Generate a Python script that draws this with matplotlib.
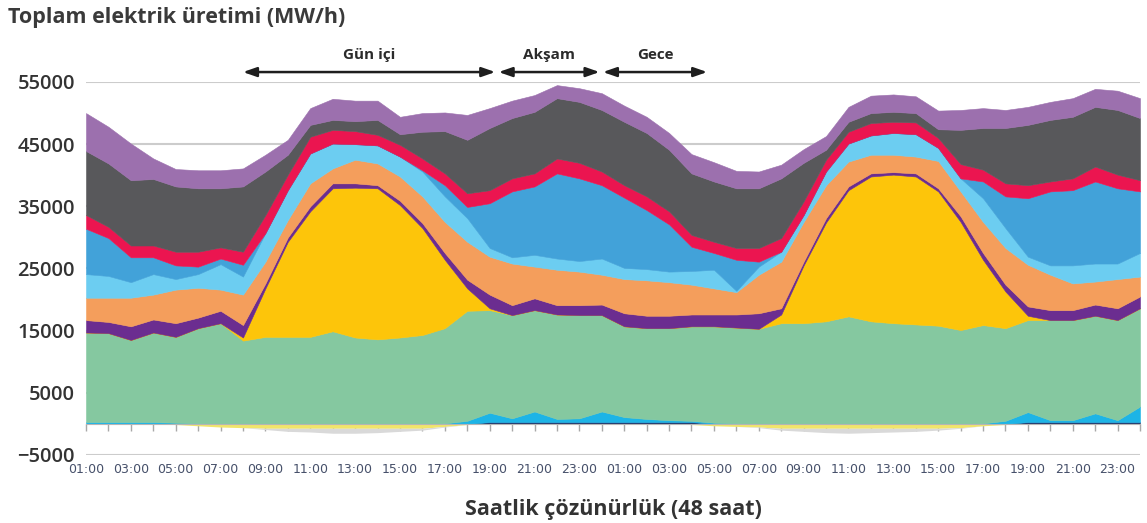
import numpy as np
import matplotlib
matplotlib.use('Agg')
import matplotlib.pyplot as plt

# 48 hourly points, 01:00 day 1 .. 24:00 day 2 (MW)
hours = np.arange(48)
day_labels = ['01:00', '03:00', '05:00', '07:00', '09:00', '11:00',
              '13:00', '15:00', '17:00', '19:00', '21:00', '23:00']
tick_labels = day_labels + day_labels

navy = [0, 0, 0, 0, 0, 0, 0, 0, 0, 0, 0, 0, 0, 0, 0, 0, 0, 0, 300, 300,
        300, 300, 300, 300, 300, 300, 300, 300, 0, 0, 0, 0, 0, 0, 0, 0, 0, 0, 0, 0,
        0, 0, 300, 300, 300, 300, 300, 300]
cyan = [300, 300, 300, 300, 200, 100, 0, 0, 0, 0, 0, 0, 0, 0, 0, 0, 100, 500, 1500, 600,
        1700, 500, 600, 1700, 800, 500, 300, 200, 200, 100, 0, 0, 0, 0, 0, 0, 0, 0, 0, 0,
        100, 500, 1600, 300, 300, 1400, 300, 2500]
green = [14400, 14300, 13200, 14400, 13800, 15300, 16200, 13400, 14000, 14000,
         14000, 14900, 13900, 13600, 13900, 14300, 15300, 17700, 16500, 16600,
         16300, 16800, 16600, 15500, 14600, 14600, 14800, 15200, 15500, 15400,
         15300, 16200, 16200, 16500, 17300, 16500, 16200, 16000, 15800, 15100,
         15800, 14900, 14800, 16100, 16100, 15700, 16100, 15800]
solar = [0, 0, 0, 0, 0, 0, 0, 500, 7800, 15300,
         20200, 23000, 24100, 24300, 21300, 17200, 11000, 3600, 300, 0,
         0, 0, 0, 0, 0, 0, 0, 0, 0, 0,
         0, 1400, 9300, 15900, 20300, 23300, 23900, 23800, 21600, 17400,
         10500, 5900, 700, 0, 0, 0, 0, 0]
violet = [2000, 1800, 2200, 2100, 2200, 1700, 2000, 2000, 800, 700,
          800, 800, 700, 500, 700, 800, 1100, 1400, 2200, 1600,
          1900, 1500, 1600, 1700, 2100, 2000, 2000, 1900, 1900, 2100,
          2500, 1000, 600, 700, 600, 500, 400, 500, 500, 900,
          1100, 1100, 1500, 1600, 1600, 1800, 1900, 1900]
orange = [3600, 3900, 4600, 4000, 5400, 4800, 3400, 4900, 3500, 2800,
          3700, 2400, 3800, 3500, 3900, 4300, 5000, 6100, 6100, 6700,
          5100, 5700, 5400, 4800, 5500, 5700, 5400, 4800, 4200, 3600,
          6200, 7500, 6400, 5300, 4000, 3000, 2800, 2700, 4400, 4000,
          5000, 5900, 6700, 5700, 4300, 3700, 4700, 3200]
light_blue = [3800, 3500, 2500, 3300, 1700, 2200, 4100, 2900, 4600, 4800,
              4800, 4000, 2500, 2900, 3200, 4000, 4100, 3800, 1400, 1000,
              1900, 1800, 1700, 2600, 1800, 1800, 1700, 2200, 3000, 200,
              1300, 1600, 1100, 2200, 2900, 3100, 3500, 3600, 2100, 2100,
              3800, 3200, 1300, 1500, 2900, 2900, 2500, 3800]
blue = [7300, 6100, 4000, 2700, 2200, 1200, 900, 1900, 0, 0,
        0, 0, 0, 0, 0, 200, 1800, 1800, 7200, 10600,
        11000, 13700, 13300, 11800, 11300, 9500, 7600, 3900, 2700, 5000,
        800, 0, 0, 0, 0, 0, 0, 0, 0, 0,
        2700, 5100, 9400, 11900, 12100, 13200, 12100, 9900]
crimson = [2200, 1800, 1900, 1900, 2200, 2400, 1800, 2100, 2900, 2500,
           2700, 2200, 2100, 1700, 1900, 1900, 1900, 2200, 2100, 2100,
           2100, 2400, 2500, 2200, 2000, 2200, 2100, 1900, 1800, 1900,
           2200, 2200, 2200, 1900, 1900, 2000, 1800, 1900, 1600, 2300,
           1900, 2100, 2100, 1600, 1900, 2400, 2200, 1800]
gray = [10300, 10200, 10500, 10700, 10500, 10200, 9500, 10500, 7000, 3200,
        1900, 1600, 1600, 2400, 1700, 4300, 6800, 8600, 10000, 9700,
        9900, 9700, 9800, 9900, 10200, 10200, 9900, 9900, 9700, 9600,
        9600, 9600, 6200, 1600, 1600, 1600, 1600, 1500, 1400, 5500,
        6700, 8900, 9700, 9900, 9900, 9600, 10400, 10000]
lavender = [6100, 5900, 5900, 3300, 2800, 2900, 2900, 2900, 2700, 2400,
            2700, 3400, 3300, 3100, 2800, 3000, 3000, 4000, 3200, 2800,
            2700, 2100, 2200, 2700, 2600, 2600, 2700, 3100, 3100, 2800,
            2700, 2200, 2200, 2200, 2400, 2800, 2800, 2700, 3000, 3200,
            3200, 2900, 2900, 2900, 3000, 2900, 3100, 3200]

# below zero
pumping = [0, 0, 0, 0, 100, 300, 500, 600, 700, 700,
           700, 700, 700, 700, 700, 700, 400, 100, 0, 0,
           0, 0, 0, 0, 0, 0, 0, 100, 300, 400,
           500, 700, 700, 700, 700, 700, 700, 700, 700, 600,
           300, 100, 0, 0, 0, 0, 0, 0]
export = [0, 0, 0, 0, 0, 0, 0, 0, 200, 500,
          600, 800, 800, 700, 500, 300, 100, 0, 0, 0,
          0, 0, 0, 0, 0, 0, 0, 0, 0, 0,
          100, 300, 500, 700, 800, 700, 600, 500, 300, 100,
          0, 0, 0, 0, 0, 0, 0, 0]

periods = [('Gün içi', 7.0, 18.25), ('Akşam', 18.4, 22.9), ('Gece', 23.05, 27.7)]

colors = ['#1f3a70', '#1db4e6', '#85c8a0', '#fdc50a', '#6b2d90', '#f49e5c',
          '#6ccdf1', '#42a2d9', '#eb1550', '#58585b', '#9c70ae']
fonts = ['Open Sans', 'DejaVu Sans']

fig = plt.figure(figsize=(11.47, 5.23), dpi=100)
ax = fig.add_axes([86 / 1147, 68 / 523, 1054 / 1147, 373 / 523])

layers = [navy, cyan, green, solar, violet, orange, light_blue, blue, crimson, gray, lavender]
polys = ax.stackplot(hours, *layers, colors=colors, linewidth=0.4)
for p, c in zip(polys, colors):
    p.set_edgecolor(c)

pump = np.array(pumping)
ax.fill_between(hours, 0, -pump, color='#f1e56a', lw=0)
ax.fill_between(hours, -pump, -(pump + np.array(export)), color='#d9d9d9', lw=0)

ax.set_xlim(0, 47)
ax.set_ylim(-5000, 55000)
ax.set_yticks(np.arange(-5000, 55001, 10000))
ax.yaxis.grid(True, color='#cccccc', lw=1.5)
ax.set_axisbelow(True)

for s in ['top', 'right', 'left']:
    ax.spines[s].set_visible(False)
ax.spines['bottom'].set_position(('data', 0))
ax.spines['bottom'].set_color('#b5b5b5')
ax.spines['bottom'].set_zorder(5)

ax.set_xticks(hours)
ax.set_xticklabels([tick_labels[i // 2] if i % 2 == 0 else '' for i in hours],
                   family=['Liberation Sans Narrow', 'DejaVu Sans'])
ax.tick_params(axis='x', direction='out', length=5, width=1, color='#a8a8a8',
               pad=23, labelsize=9, labelcolor='#46506a')
ax.tick_params(axis='y', length=0, pad=8, labelsize=14.5, labelcolor='#333333')
for t in ax.get_yticklabels():
    t.set_family(fonts)
    t.set_fontweight('semibold')

# period arrows
for name, x0, x1 in periods:
    ax.annotate('', xy=(x0, 56600), xytext=(x1, 56600),
                arrowprops=dict(arrowstyle='<|-|>,head_length=0.8,head_width=0.28',
                                color='#1e1e1e', lw=1.8, shrinkA=0, shrinkB=0),
                annotation_clip=False)
    ax.text((x0 + x1) / 2, 59300, name, ha='center', va='center', fontsize=11,
            fontweight='bold', color='#2b2b2b', family=fonts)

fig.text(8 / 1147, 1 - 18 / 523, 'Toplam elektrik üretimi (MW/h)', ha='left', va='center',
         fontsize=15.5, fontweight='bold', color='#3a3a3a', family=fonts)
fig.text(613 / 1147, 1 - 509 / 523, 'Saatlik çözünürlük (48 saat)', ha='center', va='center',
         fontsize=15.5, fontweight='bold', color='#333333', family=fonts)

fig.savefig('out.png', dpi=100)
